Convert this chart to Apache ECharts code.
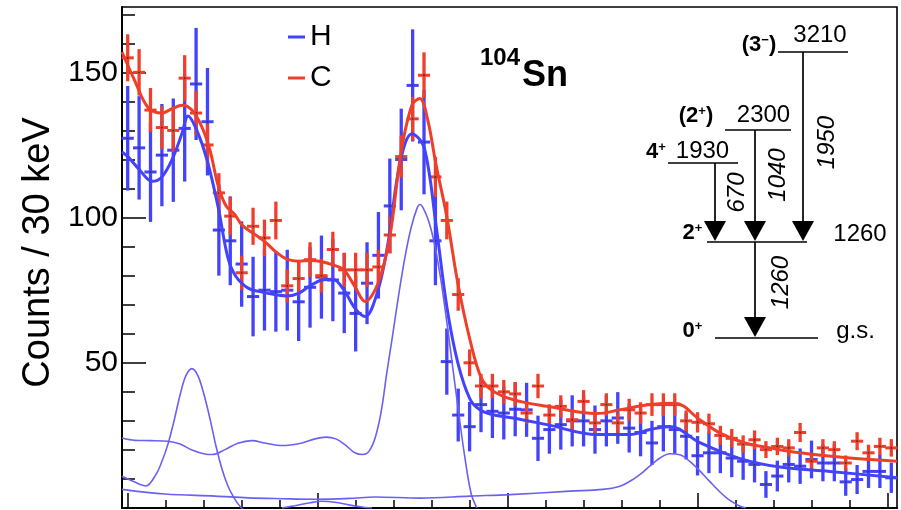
<!DOCTYPE html>
<html><head><meta charset="utf-8">
<script src="https://cdn.jsdelivr.net/npm/echarts@6/dist/echarts.min.js"></script>
<style>html,body{margin:0;padding:0;background:#fff}#c{width:901px;height:510px}</style>
</head><body><div id="c"></div>
<script>
// ---- data ----
const energies = [500,530,560,590,620,650,680,710,740,770,800,830,860,890,920,950,980,1010,1040,1070,
  1100,1130,1160,1190,1220,1250,1280,1310,1340,1370,1400,1430,1460,1490,1520,1550,1580,1610,1640,1670,
  1700,1730,1760,1790,1820,1850,1880,1910,1940,1970,2000,2030,2060,2090,2120,2150,2180,2210,2240,2270,
  2300,2330,2360,2390,2420,2450,2480,2510];
const hCounts = [127.3,124,115.7,121.5,123.2,130.7,146,133,95.7,92,
  84,72.8,75,74.5,75,71,76,79.5,78.5,74,
  67,77.4,87,104,120,145.5,126,92,50.4,32,
  28,35.6,33.3,32.7,34,33.8,24,27,28.7,30,
  30,27,30,31,27.5,26,22.4,28,27,24.7,
  18,19,19,17.2,16.1,15,8.1,11,15,14.4,
  16.7,15.5,15.5,9,9.8,12.6,12.6,10.4];
const hErr = [18,17.8,17.2,17.6,17.8,18.3,19.3,18.5,15.7,15.3,
  14.7,13.7,13.9,13.8,13.9,13.5,13.9,14.3,14.2,13.8,
  13.1,14.1,14.9,16.3,17.5,19.3,18,15.3,11.4,9.1,
  8.5,9.5,9.2,9.1,9.3,9.3,7.8,8.3,8.6,8.8,
  8.8,8.3,8.8,8.9,8.4,8.2,7.6,8.5,8.3,8,
  6.8,7,7,6.6,6.4,6.2,4.6,5.3,6.2,6.1,
  6.5,6.3,6.3,4.8,5,5.7,5.7,5.2];
const cCounts = [155,150,137,131,130,148,136,125,108.5,100.5,
  81,97,93,99,76.5,79,85.5,80,89,82,
  82,82,83,94,121,134,149,114,99,73.5,
  50,42,42,40,39.3,32.7,42,32,35,30.4,
  36.7,29.3,35.6,29.3,33.8,32.7,35.6,35.6,35.6,30,
  29.5,29,25,24,22,23.5,20.1,21.2,20.7,26,
  16.1,20.7,20.1,15.5,23,19,21.2,20.7];
const cErr = [8.1,8,7.6,7.4,7.4,7.9,7.6,7.3,6.8,6.5,
  5.9,6.4,6.3,6.5,5.7,5.8,6,5.8,6.1,5.9,
  5.9,5.9,5.9,6.3,7.2,7.5,7.9,6.9,6.5,5.6,
  4.6,4.2,4.2,4.1,4.1,3.7,4.2,3.7,3.8,3.6,
  3.9,3.5,3.9,3.5,3.8,3.7,3.9,3.9,3.9,3.6,
  3.5,3.5,3.3,3.2,3.0,3.2,2.9,3.0,3.0,3.3,
  2.6,3.0,2.9,2.6,3.1,2.8,3.0,3.0];
const hFit = [[485,122.6],[501,120.9],[532,116.3],[564,112.5],[590,114],[617,120],[643,129],[659,135],
  [682,130],[709,119.8],[738,103.7],[764,86],[785,79.7],[817,75.7],[848,74.5],[890,73.4],[919,73],
  [951,74],[980,76.5],[1011,78.5],[1040,78.8],[1069,75.1],[1098,68.8],[1125,65.9],[1159,75.1],
  [1185,91.1],[1217,119],[1248,128.9],[1280,124.3],[1311,98],[1340,69.3],[1369,50],[1401,37.5],
  [1427,33.8],[1461,32.1],[1514,31],[1604,28.7],[1735,25.3],[1822,25.3],[1875,27],[1927,28.1],
  [2006,22.5],[2112,17],[2217,14.1],[2348,12.6],[2525,10.4]];
const cFit = [[485,157],[519,147],[553,138],[590,136],[617,137.5],[643,138.7],[669,137],[696,131],
  [717,123],[738,111],[759,104],[782,101],[801,97.4],[830,94.6],[861,91.7],[890,88.2],[919,85.7],
  [951,85],[980,85.2],[1011,84.8],[1040,83.7],[1069,82],[1098,76.2],[1125,71.1],[1159,77.4],
  [1190,93.4],[1219,122],[1248,138.7],[1269,141],[1290,133.5],[1311,118.6],[1340,100.3],[1369,77.4],
  [1401,57.9],[1430,45],[1459,40.5],[1514,37.3],[1604,35],[1735,32.5],[1796,33.8],[1875,35.6],
  [1940,36.1],[2006,30.4],[2059,25.8],[2125,22.4],[2191,20.7],[2270,19],[2401,17.2],[2525,16.1]];
const comp670 = [[485,10.9],[517,9],[548,7.6],[574,11.5],[590,16],[606,22],[622,30],[638,39],[653,45.5],
  [669,48],[685,45.5],[701,39],[717,30.5],[732,21.5],[748,13.5],[764,7.5],[780,3.5],[796,0.5],[811,-1]];
const comp1260 = [[485,24.1],[519,23.3],[559,23.2],[606,23],[638,22],[669,20],[703,18.6],[722,18.4],
  [756,20.1],[790,22.3],[827,23.2],[861,22.4],[906,21.5],[959,22.4],[993,23.8],[1022,24.4],[1048,23.8],
  [1072,21.8],[1098,19],[1119,18.4],[1135,19.5],[1151,24],[1167,33],[1182,46.5],[1198,60],[1214,74],
  [1230,86.5],[1246,96.5],[1261,103],[1269,104.5],[1277,103.5],[1293,98.5],[1309,90],[1325,78],
  [1340,64],[1356,48],[1372,32],[1388,17],[1404,5],[1419,0]];
const comp1950 = [[485,6.4],[598,4.8],[730,4.1],[817,3.5],[906,3.2],[993,3.0],[1085,3.3],[1151,3.8],
  [1270,3.4],[1401,4.1],[1506,4.6],[1664,5.8],[1751,6.4],[1796,7.5],[1822,9.2],[1848,11.5],[1875,14.5],
  [1901,17.2],[1927,18.7],[1954,18.3],[1980,16],[2006,12.8],[2033,9],[2059,5.5],[2085,2.6],[2112,0.6],[2127,0]];
const comp1040 = [[906,0],[940,0.8],[980,1.8],[1011,2.3],[1045,2.0],[1085,1.0],[1125,0.2],[1143,0]];
const yLabels = [50,100,150];
const yMinor = [10,20,30,40,60,70,80,90,110,120,130,140,160,170];
const xMajor = [500,1000,1500,2000,2500];
const xMinor = [600,700,800,900,1100,1200,1300,1400,1600,1700,1800,1900,2100,2200,2300,2400];

// ---- styles ----
const FONT = '"Liberation Sans", Arial, Helvetica, sans-serif';
const BLUE = '#4343fb', RED = '#ef3f2b', COMP = '#6a60f2';

function errorSeries(name, vals, errs, color) {
  return {
    type: 'custom', name: name, itemStyle: {color: color},
    data: energies.map((e, i) => [e, vals[i], errs[i]]),
    encode: {x: 0, y: 1}, z: 2,
    renderItem: function (params, api) {
      const e = api.value(0), v = api.value(1), s = api.value(2);
      const t = api.coord([e, v + s]), b = api.coord([e, v - s]);
      const l = api.coord([e - 16, v]), r = api.coord([e + 16, v]);
      return {type: 'group', children: [
        {type: 'line', shape: {x1: t[0], y1: t[1], x2: b[0], y2: b[1]}, style: {stroke: color, lineWidth: 3.3}},
        {type: 'line', shape: {x1: l[0], y1: l[1], x2: r[0], y2: r[1]}, style: {stroke: color, lineWidth: 3}},
        {type: 'circle', shape: {cx: (l[0] + r[0]) / 2, cy: l[1], r: 0.9}, style: {fill: '#333'}}
      ]};
    }
  };
}
function curve(name, data, color, width, z) {
  return {type: 'line', name: name, data: data, symbol: 'none', showSymbol: false, smooth: 0.35,
    lineStyle: {color: color, width: width}, itemStyle: {color: color}, z: z, silent: true, clip: true,
    emphasis: {disabled: true}};
}

const chart = echarts.init(document.getElementById('c'), null, {renderer: 'canvas'});

function txt(text, x, y, size, opts) {
  opts = opts || {};
  return {type: 'text', x: x, y: y, rotation: opts.rot || 0, z: 10,
    style: {text: text, fill: '#000', fontFamily: FONT, fontSize: size,
      fontWeight: opts.bold ? 'bold' : 'normal', fontStyle: opts.italic ? 'italic' : 'normal',
      align: opts.align || 'center', verticalAlign: 'middle', rich: opts.rich}};
}
const supRich = {
  b: {fontFamily: FONT, fontSize: 22, fontWeight: 'bold', fill: '#000', verticalAlign: 'bottom'},
  s: {fontFamily: FONT, fontSize: 13, fontWeight: 'bold', fill: '#000', verticalAlign: 'top'}
};
function hline(x1, y1, x2, y2) {
  return {type: 'line', shape: {x1: x1, y1: y1, x2: x2, y2: y2}, style: {stroke: '#000', lineWidth: 1.7}, z: 10};
}
function arrow(cx, tipY) {
  return {type: 'polygon', shape: {points: [[cx - 11, tipY - 20], [cx + 11, tipY - 20], [cx, tipY]]}, style: {fill: '#000'}, z: 10};
}

const graphics = [
  {type: 'text', x: 480, y: 58, z: 10, style: {text: '104', fill: '#000', fontFamily: FONT, fontSize: 24, fontWeight: 'bold', align: 'left', verticalAlign: 'middle'}},
  {type: 'text', x: 522, y: 76, z: 10, style: {text: 'Sn', fill: '#000', fontFamily: FONT, fontSize: 36, fontWeight: 'bold', align: 'left', verticalAlign: 'middle'}},
  hline(778, 52, 848, 52), hline(725, 130, 791, 130), hline(668, 163, 738, 163),
  hline(707, 242, 807, 242), hline(715, 338, 818, 338),
  hline(803, 52, 803, 222), hline(755, 130, 755, 222), hline(715, 163, 715, 222), hline(755, 242, 755, 318),
  arrow(715, 241), arrow(755, 241), arrow(803, 241), arrow(755, 337),
  txt('3210', 820, 35, 24), txt('2300', 763.5, 115, 24), txt('1930', 702.5, 151, 24),
  txt('1260', 860, 234, 24), txt('g.s.', 855.5, 331, 24),
  txt('{b|(3}{s|−}{b|)}', 759, 45, 22, {rich: supRich}),
  txt('{b|(2}{s|+}{b|)}', 696, 116, 22, {rich: supRich}),
  txt('{b|4}{s|+}', 656, 152, 22, {rich: supRich}),
  txt('{b|2}{s|+}', 692.5, 233, 22, {rich: supRich}),
  txt('{b|0}{s|+}', 692.5, 331, 22, {rich: supRich}),
  txt('1950', 827, 142.5, 24, {italic: true, rot: Math.PI / 2}),
  txt('1040', 778, 175, 24, {italic: true, rot: Math.PI / 2}),
  txt('670', 737.5, 192.5, 24, {italic: true, rot: Math.PI / 2}),
  txt('1260', 781, 282.5, 24, {italic: true, rot: Math.PI / 2})
];

const axisCommon = {type: 'value', splitLine: {show: false}, axisLabel: {show: false}};
chart.setOption({
  animation: false,
  backgroundColor: '#fff',
  grid: {left: 122, right: 4, top: 7, bottom: 2, show: true, borderColor: '#000', borderWidth: 1.6, containLabel: false, outerBoundsMode: 'none'},
  legend: {data: ['H', 'C'], orient: 'vertical', left: 283, top: 17, itemGap: 11, itemWidth: 17, itemHeight: 3,
    icon: 'rect', selectedMode: false, textStyle: {fontSize: 30, color: '#000', fontFamily: FONT}},
  xAxis: [
    Object.assign({}, axisCommon, {min: 485, max: 2525, position: 'bottom',
      axisLine: {show: true, lineStyle: {color: '#000', width: 2}},
      axisTick: {show: true, inside: true, length: 15, customValues: xMajor, lineStyle: {color: '#000', width: 1.5}}}),
    Object.assign({}, axisCommon, {min: 485, max: 2525, position: 'bottom',
      axisLine: {show: false},
      axisTick: {show: true, inside: true, length: 8, customValues: xMinor, lineStyle: {color: '#000', width: 1.5}}})
  ],
  yAxis: [
    Object.assign({}, axisCommon, {min: 0, max: 172.5, position: 'left',
      name: 'Counts / 30 keV', nameLocation: 'middle', nameRotate: 90, nameGap: 64,
      nameTextStyle: {fontSize: 38, color: '#000', fontFamily: FONT, padding: [0, 0, 0, 10]},
      axisLine: {show: true, lineStyle: {color: '#000', width: 2}},
      axisTick: {show: true, inside: true, length: 24, customValues: yLabels, lineStyle: {color: '#000', width: 1.5}},
      axisLabel: {show: true, customValues: yLabels, fontSize: 30, color: '#000', fontFamily: FONT, margin: 4}}),
    Object.assign({}, axisCommon, {min: 0, max: 172.5, position: 'left',
      axisLine: {show: false},
      axisTick: {show: true, inside: true, length: 13, customValues: yMinor, lineStyle: {color: '#000', width: 1.5}}})
  ],
  series: [
    errorSeries('H', hCounts, hErr, BLUE),
    errorSeries('C', cCounts, cErr, RED),
    curve('H fit', hFit, BLUE, 3, 3),
    curve('C fit', cFit, RED, 3, 3),
    curve('670 peak', comp670, COMP, 1.6, 4),
    curve('1260 peak', comp1260, COMP, 1.6, 4),
    curve('1950 peak', comp1950, COMP, 1.6, 4),
    curve('1040 peak', comp1040, COMP, 1.6, 4)
  ],
  graphic: graphics
});
</script></body></html>
